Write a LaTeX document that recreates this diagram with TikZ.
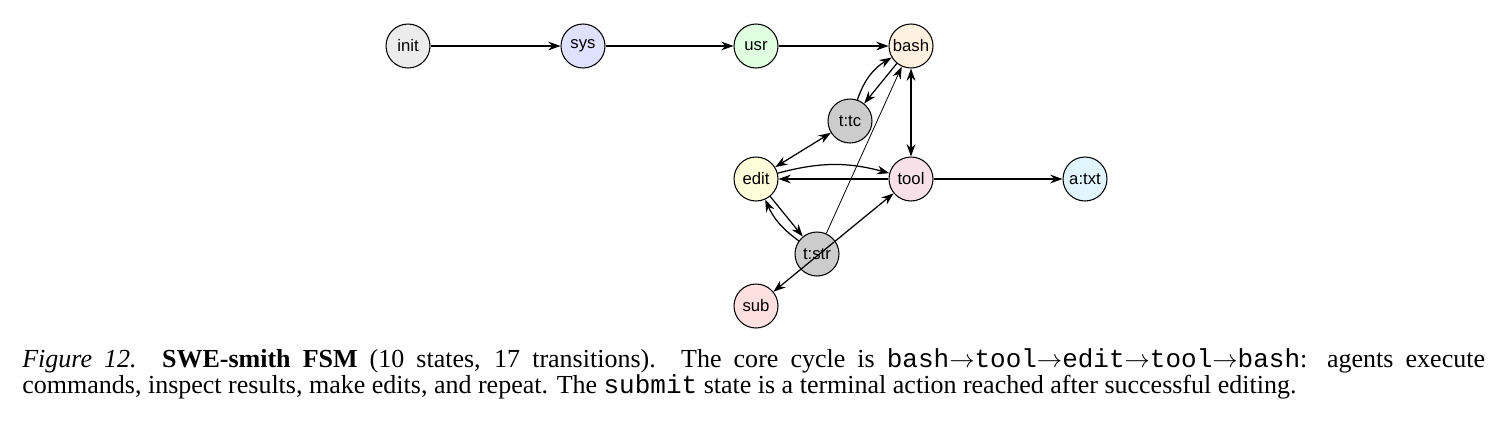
\documentclass[tikz,border=0pt]{standalone}
\usepackage{fontspec}
\setmainfont{Liberation Serif}
\newfontfamily\nodefont{Liberation Sans}
\newfontfamily\monofont{Liberation Mono}
\usetikzlibrary{arrows.meta}
\begin{document}
\begin{tikzpicture}[x=0.02cm,y=-0.02cm,
  st/.style={circle,draw,line width=0.6pt,minimum size=0.88cm,inner sep=0pt,font=\nodefont\fontsize{9.5}{10}\selectfont},
  e/.style={-{Stealth[length=7pt,width=5pt]},line width=0.7pt},
  th/.style={-{Stealth[length=7pt,width=5pt]},line width=0.45pt}]
\useasboundingbox (0,0) rectangle (1491,426);
\node[st,fill=gray!15] (init) at (408,46) {init};
\node[st,fill=blue!12] (sys) at (583,46) {sys};
\node[st,fill=green!12] (usr) at (756,46) {usr};
\node[st,fill=orange!12] (bash) at (911,46) {bash};
\node[st,fill=gray!40] (tc) at (850,121) {t:tc};
\node[st,fill=yellow!15] (edit) at (756,179) {edit};
\node[st,fill=purple!12] (tool) at (911,179) {tool};
\node[st,fill=cyan!12] (atxt) at (1085,179) {a:txt};
\node[st,fill=gray!40] (str) at (817,254) {t:str};
\node[st,fill=red!12] (sub) at (756,306) {sub};
\draw[e] (init) -- (sys);
\draw[e] (sys) -- (usr);
\draw[e] (usr) -- (bash);
\draw[e] (tool) -- (atxt);
\draw[e,{Stealth[length=7pt,width=5pt]}-{Stealth[length=7pt,width=5pt]}] (bash) -- (tool);
\draw[e] (tc) to[bend left=20] (bash);
\draw[e] (bash) -- (tc);
\draw[e,{Stealth[length=7pt,width=5pt]}-{Stealth[length=7pt,width=5pt]}] (edit) -- (tc);
\draw[e] (edit) to[bend left=15] (tool);
\draw[e] (tool) -- (edit);
\draw[e] (edit) -- (str);
\draw[e] (str) to[bend left=15] (edit);
\draw[th] (str) -- (bash);
\draw[e,{Stealth[length=7pt,width=5pt]}-{Stealth[length=7pt,width=5pt]}] (sub) -- (tool);
\node[anchor=north west,text width=29.26cm,align=justify,inner sep=0pt,font=\fontsize{14.8}{13.5}\selectfont] (cap) at (22,348)
{\textit{Figure 12.} \textbf{SWE-smith FSM} (10 states, 17 transitions). The core cycle is {\monofont bash}$\rightarrow${\monofont tool}$\rightarrow${\monofont edit}$\rightarrow${\monofont tool}$\rightarrow${\monofont bash}: agents execute\linebreak commands, inspect results, make edits, and repeat. The {\monofont submit} state is a terminal action reached after successful editing.};
\end{tikzpicture}
\end{document}
